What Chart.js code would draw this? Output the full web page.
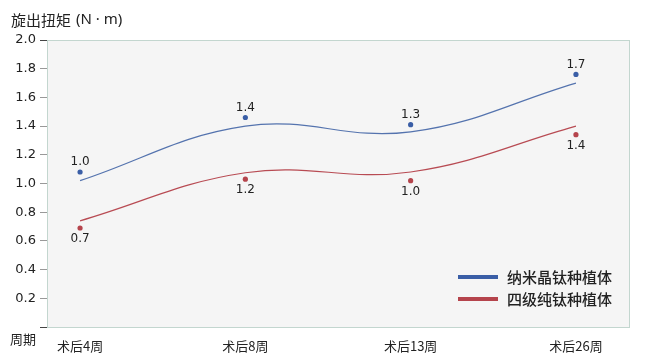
<!DOCTYPE html>
<html>
<head>
<meta charset="utf-8">
<script src="https://cdn.jsdelivr.net/npm/chart.js@4"></script>
<style>
    html, body { margin: 0; padding: 0; background: #ffffff; }
    #wrap { width: 650px; height: 362px; }
</style>
</head>
<body>
<div id="wrap"><canvas id="torqueChart" width="650" height="362"></canvas></div>
<script>
// Data
const periods = ["术后4周", "术后8周", "术后13周", "术后26周"];
const seriesNames = ["纳米晶钛种植体", "四级纯钛种植体"];
// measured points
const nanoValues = [1.08, 1.46, 1.41, 1.76];
const pureValues = [0.69, 1.03, 1.02, 1.34];
// printed labels next to the points
const nanoLabels = ["1.0", "1.4", "1.3", "1.7"];
const pureLabels = ["0.7", "1.2", "1.0", "1.4"];
// fitted trend curves at each period
const nanoTrend = [1.02, 1.40, 1.36, 1.70];
const pureTrend = [0.74, 1.075, 1.08, 1.40];
const yTicks = [0, 0.2, 0.4, 0.6, 0.8, 1.0, 1.2, 1.4, 1.6, 1.8, 2.0];

const BLUE = "#3a5ea6";
const RED = "#b5444c";
const CJK = "'Noto Sans CJK SC', 'Noto Sans', sans-serif";
const NUM = "'DejaVu Sans', sans-serif";

function toXY(values) {
    return values.map(function(v, i) { return {x: i, y: v}; });
}

// Background, frame and extra texts
const decorPlugin = {
    id: "decor",
    beforeDraw(chart) {
        const ctx = chart.ctx;
        const a = chart.chartArea;
        ctx.save();
        ctx.fillStyle = "#f5f5f5";
        ctx.fillRect(a.left, a.top, a.right - a.left, a.bottom - a.top);
        ctx.restore();
    },
    afterDraw(chart) {
        const ctx = chart.ctx;
        const a = chart.chartArea;
        ctx.save();
        ctx.strokeStyle = "#c3d6cf";
        ctx.lineWidth = 1;
        ctx.strokeRect(a.left + 0.5, a.top + 0.5, a.right - a.left - 1, a.bottom - a.top);

        // axis title and period caption
        ctx.fillStyle = "#222";
        ctx.textBaseline = "middle";
        ctx.textAlign = "left";
        ctx.font = "15px " + CJK;
        ctx.fillText("旋出扭矩", 11, 20);
        ctx.font = "15px 'Noto Sans', sans-serif";
        ctx.fillText("(N · m)", 76, 20);
        ctx.font = "13px " + CJK;
        ctx.fillText("周期", 10, 339);

        // legend inside the plot, bottom right
        const items = [{name: seriesNames[0], color: BLUE}, {name: seriesNames[1], color: RED}];
        items.forEach(function(it, i) {
            const y = 277 + i * 22;
            ctx.strokeStyle = it.color;
            ctx.lineWidth = 4;
            ctx.beginPath();
            ctx.moveTo(458, y);
            ctx.lineTo(498, y);
            ctx.stroke();
            ctx.fillStyle = "#222";
            ctx.font = "500 15px " + CJK;
            ctx.fillText(it.name, 507, y);
        });
        ctx.restore();
    },
    afterDatasetsDraw(chart) {
        // value labels: above the blue points, below the red ones
        const ctx = chart.ctx;
        ctx.save();
        ctx.fillStyle = "#222";
        ctx.font = "12px " + NUM;
        ctx.textAlign = "center";
        ctx.textBaseline = "middle";
        chart.getDatasetMeta(2).data.forEach(function(pt, i) {
            ctx.fillText(nanoLabels[i], pt.x, pt.y - 10);
        });
        chart.getDatasetMeta(3).data.forEach(function(pt, i) {
            ctx.fillText(pureLabels[i], pt.x, pt.y + 11);
        });
        ctx.restore();
    }
};

const ctx = document.getElementById("torqueChart").getContext("2d");
new Chart(ctx, {
    type: "scatter",
    data: {
        datasets: [
            {
                type: "line",
                label: seriesNames[0] + " trend",
                data: toXY(nanoTrend),
                borderColor: "#5473ae",
                borderWidth: 1.2,
                pointRadius: 0,
                tension: 0.4,
                fill: false,
            },
            {
                type: "line",
                label: seriesNames[1] + " trend",
                data: toXY(pureTrend),
                borderColor: "#b84b53",
                borderWidth: 1.2,
                pointRadius: 0,
                tension: 0.4,
                fill: false,
            },
            {
                label: seriesNames[0],
                data: toXY(nanoValues),
                backgroundColor: BLUE,
                borderWidth: 0,
                pointRadius: 2.6,
            },
            {
                label: seriesNames[1],
                data: toXY(pureValues),
                backgroundColor: RED,
                borderWidth: 0,
                pointRadius: 2.6,
            },
        ]
    },
    options: {
        responsive: false,
        animation: false,
        layout: {padding: {top: 40, right: 20, left: 0, bottom: 0}},
        plugins: {
            legend: {display: false},
            tooltip: {enabled: false},
        },
        scales: {
            x: {
                type: "linear",
                min: -0.2,
                max: 3.327,
                afterBuildTicks(scale) {
                    scale.ticks = periods.map(function(p, i) { return {value: i}; });
                },
                afterFit(scale) { scale.height = 35; },
                grid: {display: false},
                border: {display: false},
                ticks: {
                    padding: 3,
                    color: "#222",
                    font: {family: CJK, size: 13},
                    maxRotation: 0,
                    callback: function(v) { return periods[v] || ""; },
                },
            },
            y: {
                min: 0,
                max: 2,
                afterBuildTicks(scale) {
                    scale.ticks = yTicks.map(function(v) { return {value: v}; });
                },
                afterFit(scale) { scale.width = 47; },
                border: {display: false},
                grid: {
                    drawOnChartArea: false,
                    drawTicks: true,
                    tickLength: 7,
                    color: function(c) {
                        const v = c.tick ? c.tick.value : 0;
                        return (v === 0 || v === 2) ? "#444" : "#999";
                    },
                },
                ticks: {
                    padding: 4,
                    color: "#222",
                    font: {family: NUM, size: 13},
                    callback: function(v) { return v === 0 ? "" : v.toFixed(1); },
                },
            },
        },
    },
    plugins: [decorPlugin],
});
</script>
</body>
</html>
